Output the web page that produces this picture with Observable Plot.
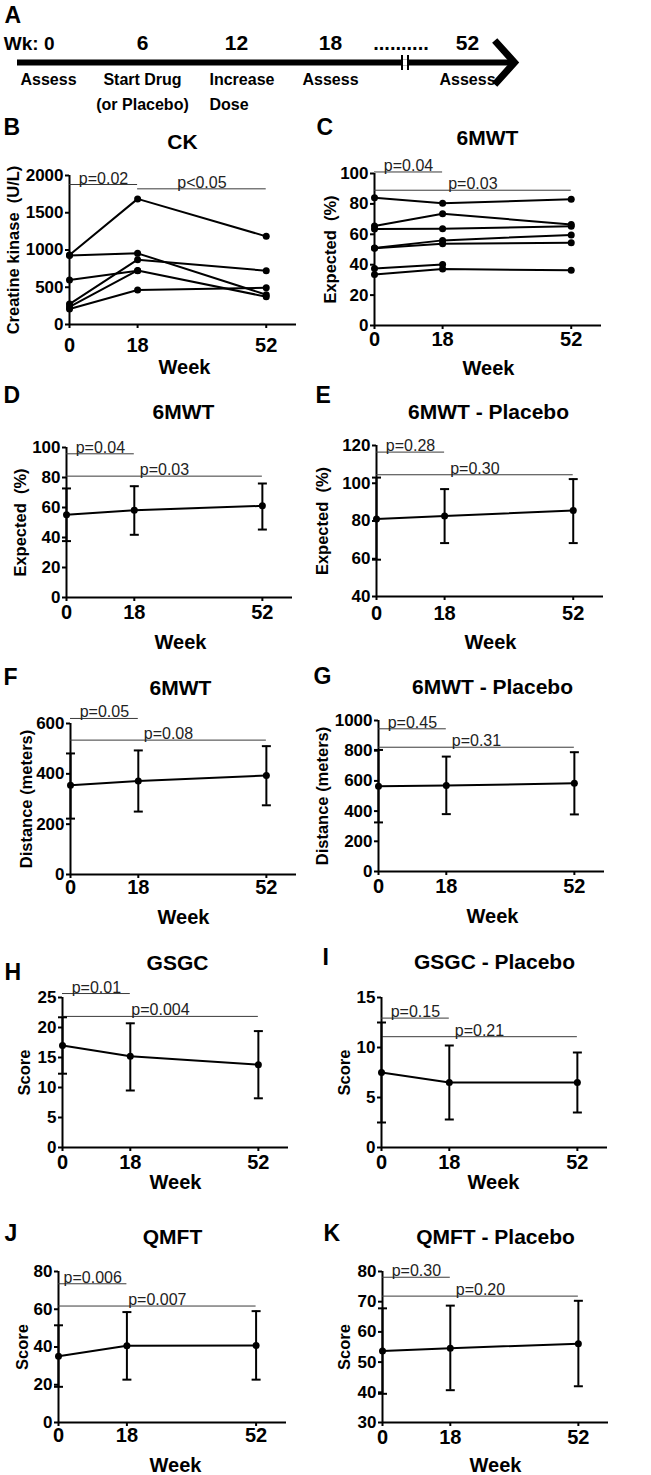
<!DOCTYPE html>
<html>
<head>
<meta charset="utf-8">
<script src="https://cdn.jsdelivr.net/npm/d3@7"></script>
<script src="https://cdn.jsdelivr.net/npm/@observablehq/plot@0.6"></script>
<style>
  body { margin: 0; background: #fff; }
  #fig { position: relative; width: 651px; height: 1475px; overflow: hidden; background: #fff;
         font-family: "Liberation Sans", Arial, sans-serif; }
  #fig > div { position: absolute; }
  #fig svg { overflow: visible; }
</style>
</head>
<body>
<div id="fig"></div>
<script>
// ---------------- DATA ----------------
const weeks = [0, 18, 52];

// Panel A timeline
const timelineWeeks = [0, 6, 12, 18, 52];
const timelineTop = ["Wk: 0", "6", "12", "18", "52"];
const timelineEvents = ["Assess", "Start Drug\n(or Placebo)", "Increase\nDose", "Assess", "Assess"];

// Panel B: CK individual patients (U/L), null = not measured
const ckValues = [
  [933, 1686, 1183],
  [925, 955, 400],
  [597, 722, null],
  [274, 870, 722],
  [238, 725, 373],
  [207, 463, 494]
];
const ckTicks = [0, 500, 1000, 1500, 2000];
const ckSig = [
  {x1: 0, x2: 18, y: 1879, label: "p=0.02"},
  {x1: 18, x2: 52, y: 1821, label: "p<0.05"}
];

// Panel C: 6MWT % expected, individual
const mwtIndValues = [
  [84, 80.5, 83],
  [65.5, 73.5, 66.5],
  [63.5, 63.7, 65.3],
  [51, 56, 59.6],
  [50.8, 53.8, 54.5],
  [37.5, 40.2, null],
  [33.5, 37.1, 36.3]
];
const pctTicks = [0, 20, 40, 60, 80, 100];
const mwtIndSig = [
  {x1: 0, x2: 18, y: 101, label: "p=0.04"},
  {x1: 0, x2: 52, y: 89, label: "p=0.03"}
];

// Panel D: 6MWT % expected, mean with error
const mwtPctMean = [55.1, 58.2, 61.1];
const mwtPctHi = [72.7, 74.2, 76.0];
const mwtPctLo = [37.6, 41.8, 45.3];
const mwtPctSig = [
  {x1: 0, x2: 18, y: 95.8, label: "p=0.04"},
  {x1: 0, x2: 52, y: 80.9, label: "p=0.03"}
];

// Panel E: 6MWT % expected, placebo
const mwtPctPlMean = [81.1, 82.6, 85.6];
const mwtPctPlHi = [103, 96.9, 102.2];
const mwtPctPlLo = [59.5, 68.3, 68.3];
const pctPlTicks = [40, 60, 80, 100, 120];
const mwtPctPlSig = [
  {x1: 0, x2: 18, y: 116.5, label: "p=0.28"},
  {x1: 0, x2: 52, y: 104.5, label: "p=0.30"}
];

// Panel F: 6MWT distance (m)
const distMean = [355, 372, 393];
const distHi = [481, 493, 510];
const distLo = [222, 250, 275];
const distTicks = [0, 200, 400, 600];
const distSig = [
  {x1: 0, x2: 18, y: 620, label: "p=0.05"},
  {x1: 0, x2: 52, y: 534, label: "p=0.08"}
];

// Panel G: 6MWT distance, placebo
const distPlMean = [564, 569, 584];
const distPlHi = [805, 761, 790];
const distPlLo = [325, 380, 378];
const distPlTicks = [0, 200, 400, 600, 800, 1000];
const distPlSig = [
  {x1: 0, x2: 18, y: 945, label: "p=0.45"},
  {x1: 0, x2: 52, y: 823, label: "p=0.31"}
];

// Panel H: GSGC
const gsgcMean = [17.0, 15.2, 13.8];
const gsgcHi = [21.7, 20.7, 19.4];
const gsgcLo = [12.3, 9.5, 8.2];
const gsgcTicks = [0, 5, 10, 15, 20, 25];
const gsgcSig = [
  {x1: 0, x2: 18, y: 25.66, label: "p=0.01"},
  {x1: 0, x2: 52, y: 21.85, label: "p=0.004"}
];

// Panel I: GSGC placebo
const gsgcPlMean = [7.5, 6.5, 6.5];
const gsgcPlHi = [12.5, 10.2, 9.5];
const gsgcPlLo = [2.5, 2.8, 3.5];
const gsgcPlTicks = [0, 5, 10, 15];
const gsgcPlSig = [
  {x1: 0, x2: 18, y: 12.94, label: "p=0.15"},
  {x1: 0, x2: 52, y: 11.08, label: "p=0.21"}
];

// Panel J: QMFT
const qmftMean = [35.1, 40.7, 40.8];
const qmftHi = [51.5, 58.5, 59.0];
const qmftLo = [18.9, 22.7, 22.7];
const qmftTicks = [0, 20, 40, 60, 80];
const qmftSig = [
  {x1: 0, x2: 18, y: 73.5, label: "p=0.006"},
  {x1: 0, x2: 52, y: 61.7, label: "p=0.007"}
];

// Panel K: QMFT placebo
const qmftPlMean = [53.7, 54.6, 56.1];
const qmftPlHi = [67.8, 68.7, 70.3];
const qmftPlLo = [39.5, 40.7, 42.0];
const qmftPlTicks = [30, 40, 50, 60, 70, 80];
const qmftPlSig = [
  {x1: 0, x2: 18, y: 78.1, label: "p=0.30"},
  {x1: 0, x2: 52, y: 71.85, label: "p=0.20"}
];

// ---------------- LAYOUT ----------------
const FONT = "'Liberation Sans', Arial, Helvetica, sans-serif";
const fig = document.getElementById("fig");

function hasFont(name) {
  const c = document.createElement("canvas").getContext("2d");
  c.font = "bold 40px monospace";
  const a = c.measureText("Assess Start Drug").width;
  c.font = `bold 40px '${name}', monospace`;
  const b = c.measureText("Assess Start Drug").width;
  return Math.abs(a - b) > 0.5;
}
const NARROW = hasFont("Liberation Sans Narrow");
const TL_FONT = NARROW ? "'Liberation Sans Narrow', 'Liberation Sans', Arial, sans-serif" : FONT;
const TL_EVENT_FS = NARROW ? 19 : 16;

function place(el, left, top, w, h) {
  const d = document.createElement("div");
  d.style.left = left + "px"; d.style.top = top + "px";
  d.style.width = w + "px"; d.style.height = h + "px";
  d.appendChild(el);
  fig.appendChild(d);
}

const capSymbol = {
  draw(ctx, size) { const r = Math.sqrt(size / Math.PI); ctx.moveTo(-r, 0); ctx.lineTo(r, 0); }
};
const chevronSymbol = {
  draw(ctx, size) { const r = Math.sqrt(size / Math.PI); ctx.moveTo(-0.9 * r, -r); ctx.lineTo(0, 0); ctx.lineTo(-0.9 * r, r); }
};
const gapSymbol = {
  draw(ctx, size) { const r = Math.sqrt(size / Math.PI); ctx.rect(-r, -r, 2 * r, 2 * r); }
};
const breakSymbol = {
  draw(ctx, size) { const r = Math.sqrt(size / Math.PI);
    ctx.moveTo(-3, -r); ctx.lineTo(-3, r); ctx.moveTo(3, -r); ctx.lineTo(3, r); }
};

// ---- Panel A: timeline (axis broken between week 18 and week 52) ----
(function timeline() {
  const pxStart = 48, px18 = 330, px52 = 467;           // layout of the drawn timeline
  const k = (px52 - px18) / ((52 - 18) * (px18 - pxStart) / 18);
  const timelinePos = w => (w <= 18 ? w : 18 + (w - 18) * k);
  const ev = timelineWeeks.map((w, i) => ({week: w, top: timelineTop[i], event: timelineEvents[i]}));
  const mid = [(weeks[1] + weeks[2]) / 2];
  const svg = Plot.plot({
    width: 651, height: 112,
    marginLeft: pxStart, marginRight: 651 - px52, marginTop: 0, marginBottom: 0,
    x: {type: "linear", transform: timelinePos, axis: null},
    y: {domain: [0, 1], range: [62, 0], axis: null},
    style: {fontFamily: FONT, color: "black", background: "white", overflow: "visible"},
    marks: [
      Plot.ruleY([0], {strokeWidth: 6, stroke: "black", insetLeft: -31, insetRight: -47}),
      Plot.dot([0], {y: d => d, frameAnchor: "right", dx: 47, symbol: chevronSymbol, r: 22, stroke: "black", strokeWidth: 7, fill: "none", strokeLinejoin: "miter"}),
      Plot.dot(mid, {x: d => d, y: 0, dx: 6, symbol: gapSymbol, r: 3, fill: "white", stroke: "none"}),
      Plot.dot(mid, {x: d => d, y: 0, dx: 6, symbol: breakSymbol, r: 7.5, stroke: "black", strokeWidth: 2, fill: "none"}),
      Plot.text(mid, {x: d => d, y: 0, text: () => "..........", dx: 2, dy: -19, fontSize: 20, fontWeight: "bold", lineAnchor: "middle"}),
      Plot.text(ev, {filter: (d, i) => i === 0, x: "week", y: 0, text: "top", textAnchor: "end", dx: 6, dy: -19, fontSize: 19, fontWeight: "bold"}),
      Plot.text(ev, {filter: (d, i) => i > 0, x: "week", y: 0, text: "top", dy: -19, fontSize: 21, fontWeight: "bold"}),
      Plot.text(ev, {filter: d => d.week !== 12, x: "week", y: 0, text: "event", lineAnchor: "top", dy: 4, fontSize: TL_EVENT_FS, fontFamily: TL_FONT, fontWeight: "bold", lineHeight: 1.6}),
      Plot.text(ev, {filter: d => d.week === 12, x: "week", y: 0, text: "event", textAnchor: "start", dx: -27, lineAnchor: "top", dy: 4, fontSize: TL_EVENT_FS, fontFamily: TL_FONT, fontWeight: "bold", lineHeight: 1.6}),
      Plot.text(["A"], {frameAnchor: "top-left", text: d => d, textAnchor: "start", lineAnchor: "middle", dx: -44, dy: 15, fontSize: 23, fontWeight: "bold"})
    ]
  });
  place(svg, 0, 0, 651, 112);
})();

// ---- Panels B–K ----
function summaryRows(mean, hi, lo) {
  return weeks.map((w, i) => ({week: w, mean: mean[i], hi: hi[i], lo: lo[i]}));
}
function individualRows(values) {
  const rows = [];
  values.forEach((vals, id) => vals.forEach((v, i) => { if (v != null) rows.push({id, week: weeks[i], value: v}); }));
  return rows;
}

const panels = [
  {letter: "B", title: "CK", ylabel: "Creatine kinase  (U/L)", yDomain: [0, 2000], yTicks: ckTicks, individual: ckValues, sig: ckSig,
   L: {left: 0, top: 108, w: 325, h: 272, x0: 69, xEnd: 296, yTop: 175, yBot: 324, letter: [3, 127], title: [182, 142], week: [184, 367], ylabX: 13, tickY: 344}},
  {letter: "C", title: "6MWT", ylabel: "Expected  (%)", yDomain: [0, 100], yTicks: pctTicks, individual: mwtIndValues, sig: mwtIndSig,
   L: {left: 312, top: 108, w: 339, h: 272, x0: 374, xEnd: 601, yTop: 173, yBot: 325, letter: [316, 127], title: [487, 138], week: [488, 368], ylabX: 330, tickY: 338}},
  {letter: "D", title: "6MWT", ylabel: "Expected  (%)", yDomain: [0, 100], yTicks: pctTicks, summary: summaryRows(mwtPctMean, mwtPctHi, mwtPctLo), sig: mwtPctSig,
   L: {left: 0, top: 380, w: 325, h: 275, x0: 66, xEnd: 292, yTop: 447, yBot: 597, letter: [3, 395], title: [183, 412], week: [180, 642], ylabX: 20, tickY: 611}},
  {letter: "E", title: "6MWT - Placebo", ylabel: "Expected  (%)", yDomain: [40, 120], yTicks: pctPlTicks, summary: summaryRows(mwtPctPlMean, mwtPctPlHi, mwtPctPlLo), sig: mwtPctPlSig,
   L: {left: 312, top: 380, w: 339, h: 275, x0: 376, xEnd: 603, yTop: 445, yBot: 596, letter: [315, 395], title: [488, 412], week: [490, 642], ylabX: 322, tickY: 612}},
  {letter: "F", title: "6MWT", ylabel: "Distance (meters)", yDomain: [0, 600], yTicks: distTicks, summary: summaryRows(distMean, distHi, distLo), sig: distSig,
   L: {left: 0, top: 655, w: 325, h: 275, x0: 70, xEnd: 296, yTop: 723, yBot: 874, letter: [3, 677], title: [180, 688], week: [183, 917], ylabX: 26, tickY: 886}},
  {letter: "G", title: "6MWT - Placebo", ylabel: "Distance (meters)", yDomain: [0, 1000], yTicks: distPlTicks, summary: summaryRows(distPlMean, distPlHi, distPlLo), sig: distPlSig,
   L: {left: 312, top: 655, w: 339, h: 275, x0: 378, xEnd: 604, yTop: 720, yBot: 871, letter: [313, 676], title: [492, 687], week: [492, 916], ylabX: 322, tickY: 885}},
  {letter: "H", title: "GSGC", ylabel: "Score", yDomain: [0, 25], yTicks: gsgcTicks, summary: summaryRows(gsgcMean, gsgcHi, gsgcLo), sig: gsgcSig,
   L: {left: 0, top: 930, w: 325, h: 265, x0: 62, xEnd: 288, yTop: 997, yBot: 1147, letter: [4, 972], title: [177, 963], week: [175, 1182], ylabX: 24, tickY: 1161}},
  {letter: "I", title: "GSGC - Placebo", ylabel: "Score", yDomain: [0, 15], yTicks: gsgcPlTicks, summary: summaryRows(gsgcPlMean, gsgcPlHi, gsgcPlLo), sig: gsgcPlSig,
   L: {left: 312, top: 930, w: 339, h: 265, x0: 381, xEnd: 607, yTop: 997, yBot: 1147, letter: [322, 957], title: [494, 962], week: [493, 1182], ylabX: 344, tickY: 1161}},
  {letter: "J", title: "QMFT", ylabel: "Score", yDomain: [0, 80], yTicks: qmftTicks, summary: summaryRows(qmftMean, qmftHi, qmftLo), sig: qmftSig,
   L: {left: 0, top: 1195, w: 325, h: 280, x0: 58, xEnd: 286, yTop: 1271, yBot: 1422, letter: [4, 1233], title: [172, 1237], week: [175, 1465], ylabX: 22, tickY: 1434}},
  {letter: "K", title: "QMFT - Placebo", ylabel: "Score", yDomain: [30, 80], yTicks: qmftPlTicks, summary: summaryRows(qmftPlMean, qmftPlHi, qmftPlLo), sig: qmftPlSig,
   L: {left: 312, top: 1195, w: 339, h: 280, x0: 382, xEnd: 608, yTop: 1271, yBot: 1422, letter: [323, 1233], title: [495, 1237], week: [495, 1465], ylabX: 344, tickY: 1436}}
];

const X_TICK_FS = 20, Y_TICK_FS = 17;

function drawPanel(p) {
  const L = p.L;
  const marginLeft = L.x0 - L.left;
  const marginRight = L.left + L.w - L.xEnd;
  const marginTop = L.yTop - L.top;
  const marginBottom = L.top + L.h - L.yBot;
  const tickSizeX = 4;
  const tickPaddingX = Math.max(0, L.tickY - L.yBot - tickSizeX - 0.36 * X_TICK_FS);
  const marks = [
    Plot.ruleY([p.yDomain[0]], {stroke: "black", strokeWidth: 2}),
    Plot.ruleX([0], {stroke: "black", strokeWidth: 2}),
    Plot.axisY({ticks: p.yTicks, tickFormat: d3.format("d"), tickSize: 4, tickPadding: 2, fontSize: Y_TICK_FS, fontWeight: "bold", label: null, strokeWidth: 2}),
    Plot.axisX({ticks: weeks, tickFormat: d3.format("d"), tickSize: tickSizeX, tickPadding: tickPaddingX, fontSize: X_TICK_FS, fontWeight: "bold", label: null, strokeWidth: 2}),
    Plot.ruleY(p.sig, {x1: "x1", x2: "x2", y: "y", stroke: "#3a3a3a", strokeWidth: 1}),
    Plot.text(p.sig, {x: d => (d.x1 + d.x2) / 2, y: "y", text: "label", lineAnchor: "bottom", dy: -1, fontSize: 16, fill: "#222"})
  ];
  if (p.individual) {
    const rows = individualRows(p.individual);
    marks.push(
      Plot.line(rows, {x: "week", y: "value", z: "id", stroke: "black", strokeWidth: 2}),
      Plot.dot(rows, {x: "week", y: "value", r: 3.5, fill: "black", stroke: "none"})
    );
  } else {
    const rows = p.summary;
    marks.push(
      Plot.ruleX(rows, {x: "week", y1: "lo", y2: "hi", stroke: "black", strokeWidth: 2}),
      Plot.dot(rows, {x: "week", y: "lo", symbol: capSymbol, r: 4.5, stroke: "black", strokeWidth: 2, fill: "none"}),
      Plot.dot(rows, {x: "week", y: "hi", symbol: capSymbol, r: 4.5, stroke: "black", strokeWidth: 2, fill: "none"}),
      Plot.line(rows, {x: "week", y: "mean", stroke: "black", strokeWidth: 2}),
      Plot.dot(rows, {x: "week", y: "mean", r: 3.5, fill: "black", stroke: "none"})
    );
  }
  const t = (s, pos, opts) => Plot.text([s], Object.assign({
    frameAnchor: "top-left", text: d => d, dx: pos[0] - L.x0, dy: pos[1] - L.yTop,
    textAnchor: "middle", lineAnchor: "middle", fontWeight: "bold", fill: "black"
  }, opts));
  marks.push(
    t(p.letter, L.letter, {textAnchor: "start", fontSize: 23}),
    t(p.title, L.title, {fontSize: 21}),
    t("Week", L.week, {fontSize: 20}),
    t(p.ylabel, [L.ylabX, (L.yTop + L.yBot) / 2], {fontSize: 16.5, rotate: -90})
  );
  const svg = Plot.plot({
    width: L.w, height: L.h,
    marginLeft, marginRight, marginTop, marginBottom,
    x: {domain: [0, 60]},
    y: {domain: p.yDomain},
    style: {fontFamily: FONT, color: "black", background: "transparent", overflow: "visible"},
    marks
  });
  place(svg, L.left, L.top, L.w, L.h);
}

panels.forEach(drawPanel);
</script>
</body>
</html>
